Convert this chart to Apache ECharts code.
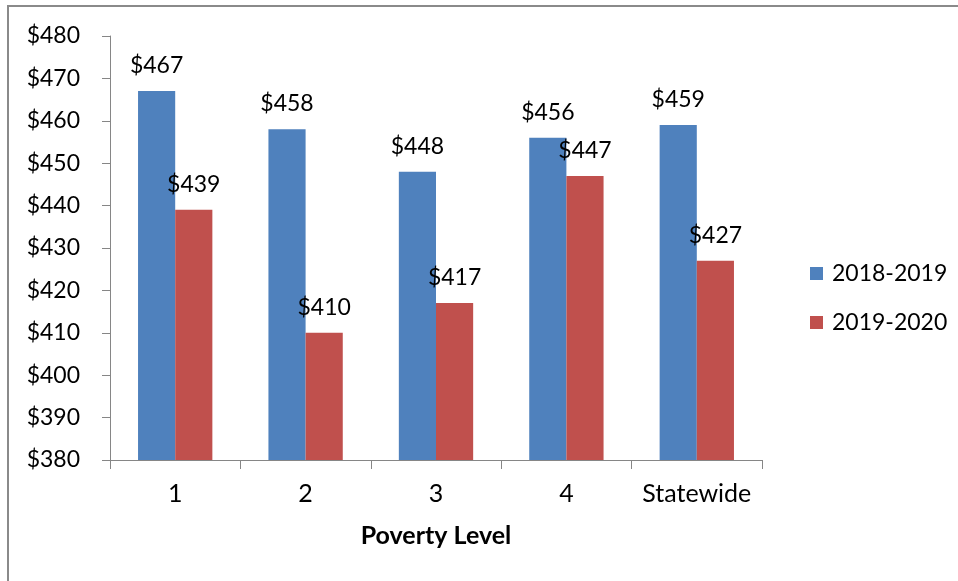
<!DOCTYPE html>
<html>
<head>
<meta charset="utf-8">
<script src="https://cdn.jsdelivr.net/npm/echarts@6/dist/echarts.min.js"></script>
<style>
html,body{margin:0;padding:0;background:#fff;}
#chart{position:absolute;left:0;top:0;width:958px;height:581px;}
#frame{position:absolute;left:7px;top:5px;width:960px;height:600px;border-top:2px solid #8a8a8a;border-left:2px solid #8a8a8a;pointer-events:none;}
</style>
</head>
<body>
<div id="chart"></div>
<div id="frame"></div>
<script>
const categories = ['1', '2', '3', '4', 'Statewide'];
const seriesNames = ['2018-2019', '2019-2020'];
const values2018 = [467, 458, 448, 456, 459];
const values2019 = [439, 410, 417, 447, 427];
const yMin = 380, yMax = 480, yStep = 10;
const colors = ['#4f81bd', '#c0504d'];

const FONT = 'Lato';
const chart = echarts.init(document.getElementById('chart'));
const labelCfg = {
  show: true, position: 'top', distance: 14,
  formatter: p => '$' + Math.round(p.value),
  fontFamily: FONT, fontSize: 23, color: '#000'
};
chart.setOption({
  animation: false,
  textStyle: {fontFamily: FONT},
  grid: {left: 110, top: 36, right: 196, bottom: 121, containLabel: false},
  legend: {
    orient: 'vertical', left: 805, top: 257,
    itemWidth: 13, itemHeight: 13, itemGap: 26,
    icon: 'rect',
    textStyle: {fontFamily: FONT, fontSize: 23, color: '#000', padding: [0, 0, 0, 4]},
    data: seriesNames
  },
  xAxis: {
    type: 'category', data: categories,
    axisLine: {lineStyle: {color: '#868686', width: 1}},
    axisTick: {show: true, length: 9, interval: 0, lineStyle: {color: '#868686'}},
    axisLabel: {fontFamily: FONT, fontSize: 25, color: '#000', margin: 21, interval: 0, hideOverlap: false},
    name: 'Poverty Level', nameLocation: 'middle', nameGap: 63,
    nameTextStyle: {fontFamily: FONT, fontSize: 25, fontWeight: 'bold', color: '#000'}
  },
  yAxis: {
    type: 'value', min: yMin, max: yMax, interval: yStep,
    axisLine: {show: true, lineStyle: {color: '#868686', width: 1}},
    axisTick: {show: true, length: 8, lineStyle: {color: '#868686'}},
    splitLine: {show: false},
    axisLabel: {fontFamily: FONT, fontSize: 23, color: '#000', margin: 30, formatter: v => '$' + v}
  },
  series: [
    {name: seriesNames[0], type: 'bar', data: values2018, barGap: '0%', barCategoryGap: '43%',
     itemStyle: {color: colors[0]}, label: labelCfg},
    {name: seriesNames[1], type: 'bar', data: values2019, barGap: '0%', barCategoryGap: '43%',
     itemStyle: {color: colors[1]}, label: labelCfg}
  ]
});
</script>
</body>
</html>
